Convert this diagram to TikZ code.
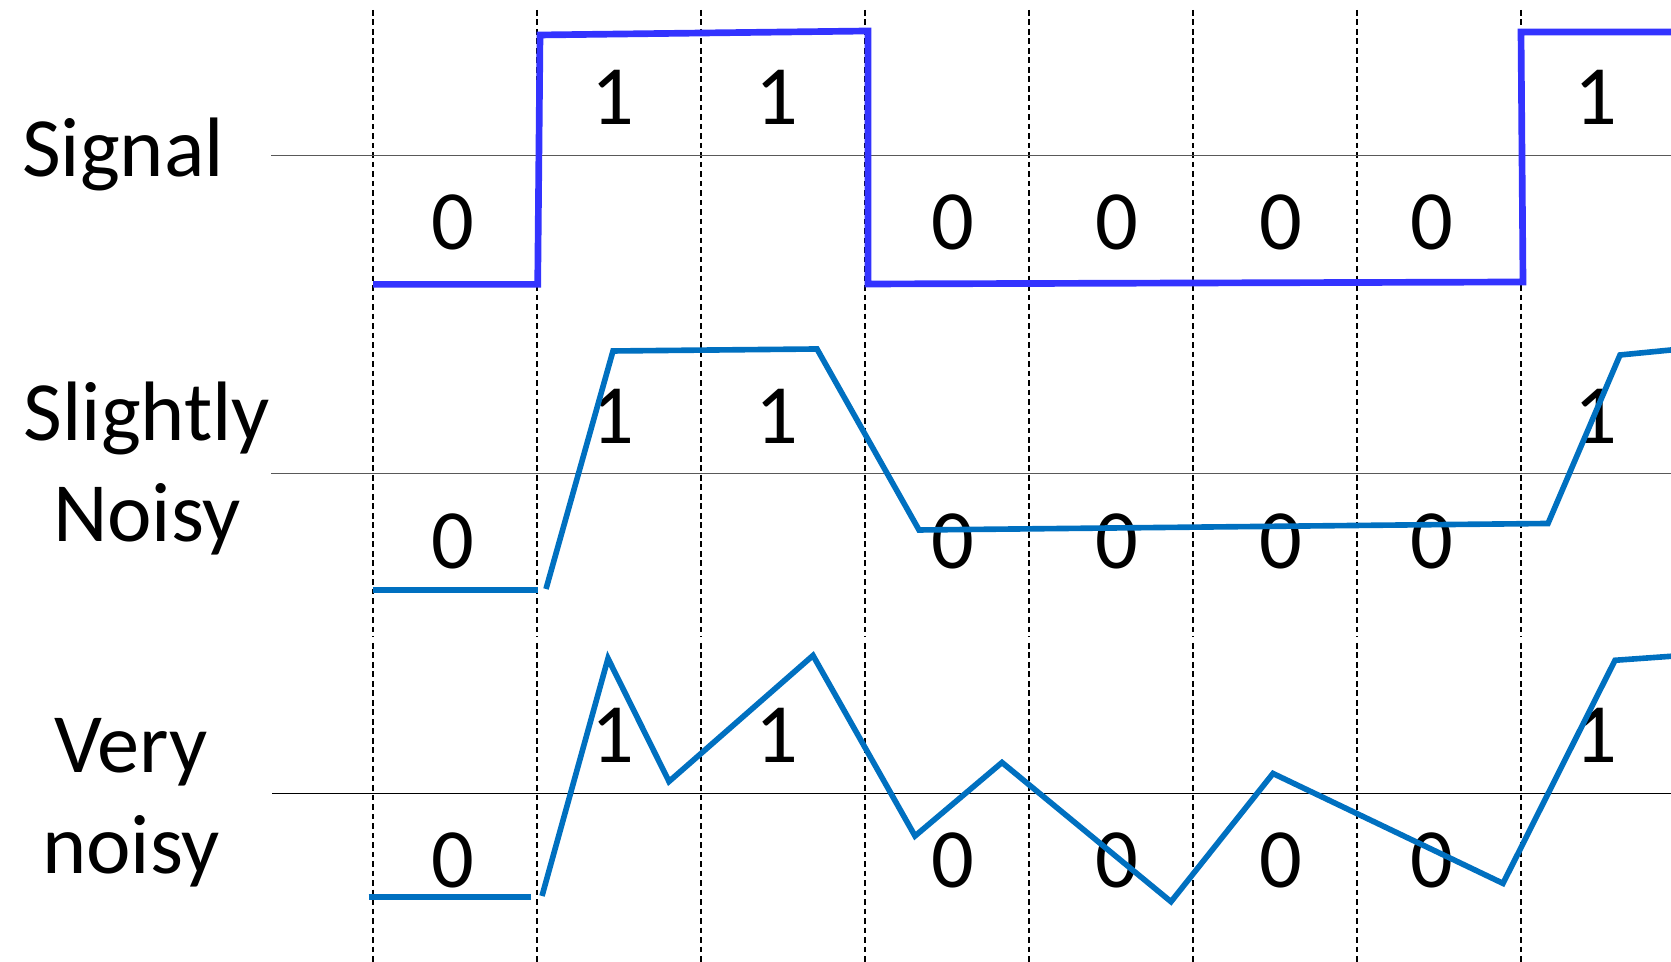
\documentclass[tikz,border=0pt]{standalone}
\usepackage{fontspec}
\setmainfont{Carlito}
\usetikzlibrary{positioning}
\definecolor{sigblue}{RGB}{51,51,255}
\definecolor{noiseblue}{RGB}{0,112,192}

\begin{document}
\begin{tikzpicture}[
  bit/.style={font=\fontsize{24}{28.8}\selectfont, inner sep=0pt},
  rowlabel/.style={font=\fontsize{24}{28.8}\selectfont, align=center, inner sep=0pt, anchor=base},
  slot/.style={black, line width=0.3pt, dash pattern=on 1.6pt off 1.1pt},
  level/.style={line width=0.35pt},
  wave/.style={line width=1.6pt, noiseblue}
]
  \useasboundingbox (0,0) rectangle (16.71,9.62);

  % Bit slot boundaries
  \foreach \x in {3.73,5.37,7.01,8.65,10.29,11.93,13.57,15.21} {
    \draw[slot] (\x,9.52) -- (\x,3.25);
    \draw[slot] (\x,3.19) -- (\x,0);
  }

  % Threshold lines
  \draw[level, black!65] (2.71,8.064) -- (16.71,8.064);
  \draw[level, black!65] (2.71,4.885) -- (16.71,4.885);
  \draw[level, black] (2.72,1.687) -- (16.71,1.687);

  % Row labels (base = last line)
  \node[rowlabel] (sigLabel) at (1.23,7.85) {Signal};
  \node[rowlabel] (slightLabel) at (1.47,4.203) {Slightly\\Noisy};
  \node[rowlabel] (veryLabel) at (1.31,0.887) {Very\\noisy};

  % Bits, one row per trace
  \foreach \r/\y in {sig/7.40, slight/4.21, very/1.02} {
    \foreach \b/\x [count=\i] in {0/4.53,1/6.13,1/7.77,0/9.53,0/11.17,0/12.81,0/14.32,1/15.96}
      \node[bit] (\r\i) at (\x,{\y+1.25*\b}) {\b};
  }

  % Clean signal
  \draw[line width=1.9pt, sigblue] (3.73,6.776) -- (5.377,6.776) -- (5.40,9.27) -- (8.68,9.31)
    -- (8.68,6.78) -- (15.23,6.80) -- (15.21,9.30) -- (16.71,9.30);

  % Slightly noisy trace
  \draw[wave] (3.73,3.717) -- (5.377,3.717);
  \draw[wave] (5.46,3.73) -- (6.13,6.11) -- (8.17,6.13) -- (9.19,4.32) -- (15.48,4.385)
    -- (16.20,6.07) -- (16.71,6.12);

  % Very noisy trace
  \draw[wave] (3.685,0.65) -- (5.31,0.65);
  \draw[wave] (5.42,0.66) -- (6.08,3.035) -- (6.69,1.805) -- (8.13,3.065) -- (9.15,1.26)
    -- (10.02,1.995) -- (11.71,0.603) -- (12.73,1.885) -- (15.03,0.786) -- (16.15,3.017)
    -- (16.71,3.057);
\end{tikzpicture}
\end{document}
